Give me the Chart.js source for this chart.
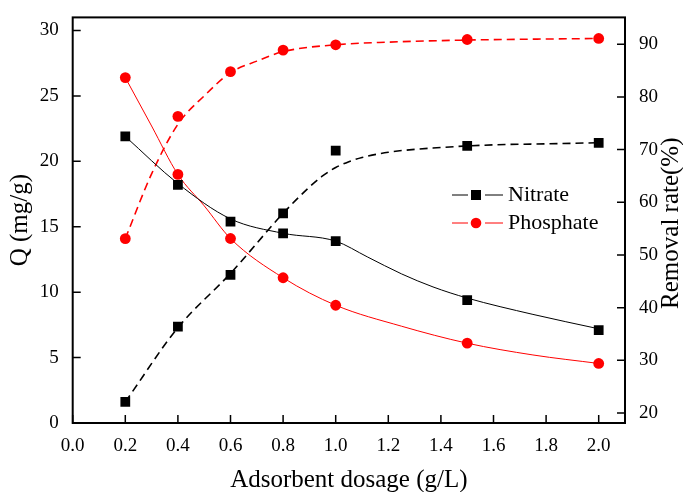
<!DOCTYPE html>
<html>
<head>
<meta charset="utf-8">
<script src="https://cdn.jsdelivr.net/npm/chart.js@4/dist/chart.umd.min.js"></script>
<style>
  html, body { margin: 0; padding: 0; background: #fff; }
  #wrap { width: 683px; height: 492px; }
</style>
</head>
<body>
<div id="wrap"><canvas id="dosageChart" width="683" height="492"></canvas></div>
<script>
// measured points
const dosage = [0.2, 0.4, 0.6, 0.8, 1.0, 1.5, 2.0];
const nitrateQ = [21.9, 18.2, 15.4, 14.5, 13.9, 9.4, 7.1];
const phosphateQ = [26.4, 19.0, 14.1, 11.1, 9.0, 6.1, 4.55];
const nitrateRemoval = [22.1, 36.4, 46.2, 57.9, 69.8, 70.7, 71.3];
const phosphateRemoval = [53.1, 76.3, 84.8, 88.9, 89.9, 90.9, 91.1];

// fitted curves
const nitrateQFitX = [0.2, 0.4, 0.6, 0.8, 1.0, 1.12, 1.25, 1.37, 1.5, 1.75, 2.0];
const nitrateQFitY = [21.9, 18.3, 15.6, 14.5, 13.9, 12.7, 11.4, 10.4, 9.55, 8.3, 7.2];
const phosphateQFitX = [0.2, 0.3, 0.4, 0.5, 0.6, 0.8, 1.0, 1.25, 1.5, 1.75, 2.0];
const phosphateQFitY = [26.4, 22.7, 19.0, 16.6, 14.1, 11.1, 9.0, 7.4, 6.1, 5.2, 4.55];
const nitrateRemovalFitX = [0.2, 0.4, 0.6, 0.8, 0.9, 0.95, 1.0, 1.05, 1.1, 1.2, 1.4, 1.6, 1.8, 2.0];
const nitrateRemovalFitY = [22.1, 36.2, 46.5, 57.9, 62.9, 65.0, 66.6, 67.7, 68.5, 69.5, 70.4, 70.9, 71.1, 71.3];
const phosphateRemovalFitX = [0.2, 0.3, 0.4, 0.5, 0.6, 0.7, 0.8, 1.0, 1.2, 1.5, 2.0];
const phosphateRemovalFitY = [53.1, 65.4, 74.8, 80.2, 84.6, 86.8, 88.6, 89.9, 90.4, 90.8, 91.1];

// tick labels
const dosageTicks = [0, 0.2, 0.4, 0.6, 0.8, 1.0, 1.2, 1.4, 1.6, 1.8, 2.0];
const qTicks = [0, 5, 10, 15, 20, 25, 30];
const rateTicks = [20, 30, 40, 50, 60, 70, 80, 90];

const RED = '#ff0000';
const BLACK = '#000000';
const serif = '"Liberation Serif", "Times New Roman", serif';

const pts = (xs, ys) => xs.map((x, i) => ({ x: x, y: ys[i] }));

function markers(label, ys, axis, color, style, r) {
    return {
        label: label,
        data: pts(dosage, ys),
        yAxisID: axis,
        showLine: false,
        pointStyle: style,
        pointRadius: r,
        pointBackgroundColor: color,
        pointBorderColor: color,
        pointBorderWidth: 0,
        order: 0
    };
}

function fitLine(xs, ys, axis, color, width, dash) {
    return {
        data: pts(xs, ys),
        yAxisID: axis,
        borderColor: color,
        borderWidth: width,
        borderDash: dash,
        pointRadius: 0,
        cubicInterpolationMode: 'monotone',
        fill: false,
        order: 1
    };
}

const legendEntries = [
    { label: 'Nitrate', color: BLACK, style: 'rect', r: 5 },
    { label: 'Phosphate', color: RED, style: 'circle', r: 5.3 }
];

const framePlugin = {
    id: 'framePlugin',
    afterDraw(chart) {
        const { ctx, chartArea: a, scales } = chart;
        ctx.save();
        ctx.strokeStyle = BLACK;
        ctx.lineWidth = 1.5;
        ctx.beginPath();
        scales.x.ticks.forEach(t => {
            const px = scales.x.getPixelForValue(t.value);
            ctx.moveTo(px, a.bottom);
            ctx.lineTo(px, a.bottom - 8);
        });
        scales.yQ.ticks.forEach(t => {
            const py = scales.yQ.getPixelForValue(t.value);
            ctx.moveTo(a.left, py);
            ctx.lineTo(a.left + 8, py);
        });
        scales.yRate.ticks.forEach(t => {
            const py = scales.yRate.getPixelForValue(t.value);
            ctx.moveTo(a.right, py);
            ctx.lineTo(a.right - 8, py);
        });
        ctx.stroke();

        ctx.lineWidth = 2;
        ctx.strokeRect(a.left, a.top, a.right - a.left, a.bottom - a.top);

        // right axis title, reading bottom to top
        ctx.fillStyle = BLACK;
        ctx.font = '25px ' + serif;
        ctx.textAlign = 'center';
        ctx.textBaseline = 'middle';
        ctx.translate(671, (a.top + a.bottom) / 2 + 3);
        ctx.rotate(-Math.PI / 2);
        ctx.fillText('Removal rate(%)', 0, 0);
        ctx.restore();

        // legend
        ctx.save();
        ctx.font = '22px ' + serif;
        ctx.textBaseline = 'middle';
        legendEntries.forEach((e, i) => {
            const y = 195 + i * 28;
            ctx.strokeStyle = e.color;
            ctx.lineWidth = 1;
            ctx.beginPath();
            ctx.moveTo(452, y);
            ctx.lineTo(468, y);
            ctx.moveTo(485, y);
            ctx.lineTo(503, y);
            ctx.stroke();
            ctx.fillStyle = e.color;
            if (e.style === 'rect') {
                ctx.fillRect(476 - e.r, y - e.r, e.r * 2, e.r * 2);
            } else {
                ctx.beginPath();
                ctx.arc(476, y, e.r, 0, Math.PI * 2);
                ctx.fill();
            }
            ctx.fillStyle = BLACK;
            ctx.fillText(e.label, 508, y);
        });
        ctx.restore();
    }
};

new Chart(document.getElementById('dosageChart'), {
    type: 'line',
    data: {
        datasets: [
            markers('Nitrate', nitrateQ, 'yQ', BLACK, 'rect', 6.9),
            markers('Phosphate', phosphateQ, 'yQ', RED, 'circle', 5.4),
            markers('Nitrate removal', nitrateRemoval, 'yRate', BLACK, 'rect', 6.9),
            markers('Phosphate removal', phosphateRemoval, 'yRate', RED, 'circle', 5.4),
            fitLine(nitrateQFitX, nitrateQFitY, 'yQ', BLACK, 1, []),
            fitLine(phosphateQFitX, phosphateQFitY, 'yQ', RED, 1, []),
            fitLine(nitrateRemovalFitX, nitrateRemovalFitY, 'yRate', BLACK, 1.6, [8, 5]),
            fitLine(phosphateRemovalFitX, phosphateRemovalFitY, 'yRate', RED, 1.6, [8, 5])
        ]
    },
    options: {
        responsive: false,
        animation: false,
        layout: { padding: { top: 14, left: 0, right: 0, bottom: 0 } },
        plugins: {
            legend: { display: false },
            tooltip: { enabled: false }
        },
        scales: {
            x: {
                type: 'linear',
                min: 0,
                max: 2.1,
                afterBuildTicks: axis => { axis.ticks = dosageTicks.map(v => ({ value: v })); },
                afterFit: axis => { axis.height = 69; },
                grid: { display: false },
                border: { display: false },
                ticks: {
                    color: BLACK,
                    font: { family: serif, size: 19 },
                    padding: 4,
                    maxRotation: 0,
                    callback: v => v.toFixed(1)
                },
                title: {
                    display: true,
                    text: 'Adsorbent dosage (g/L)',
                    color: BLACK,
                    font: { family: serif, size: 25, lineHeight: 1 },
                    padding: { top: 0, bottom: -1 }
                }
            },
            yQ: {
                type: 'linear',
                position: 'left',
                min: 0,
                max: 31,
                afterBuildTicks: axis => { axis.ticks = qTicks.map(v => ({ value: v })); },
                afterFit: axis => { axis.width = 72.7; },
                grid: { display: false },
                border: { display: false },
                ticks: {
                    color: BLACK,
                    font: { family: serif, size: 19 },
                    padding: 6
                },
                title: {
                    display: true,
                    text: 'Q (mg/g)',
                    color: BLACK,
                    font: { family: serif, size: 25, lineHeight: 1 },
                    padding: { top: 8, bottom: 0 }
                }
            },
            yRate: {
                type: 'linear',
                position: 'right',
                min: 18.1,
                max: 95.1,
                afterBuildTicks: axis => { axis.ticks = rateTicks.map(v => ({ value: v })); },
                afterFit: axis => { axis.width = 58; },
                grid: { display: false },
                border: { display: false },
                ticks: {
                    color: BLACK,
                    font: { family: serif, size: 19 },
                    padding: 6
                }
            }
        }
    },
    plugins: [framePlugin]
});
</script>
</body>
</html>
